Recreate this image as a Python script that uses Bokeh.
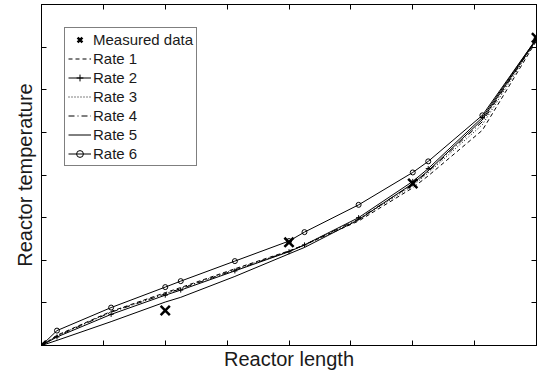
from bokeh.plotting import figure
from bokeh.models import (FixedTicker, LinearAxis, Legend, LegendItem, Range1d,
                          CustomLabelingPolicy)
from bokeh.embed import file_html
from bokeh.resources import INLINE

# Data (axes are unitless, 0..8)
x_nodes = [0, 0.25, 1.125, 2, 2.25, 3.125, 4, 4.25, 5.125, 6, 6.25, 7.125, 8]
measured_x = [0, 2, 4, 6, 8]
measured_y = [0, 0.82, 2.42, 3.80, 7.22]
rate1 = [0, 0.24, 0.80, 1.24, 1.36, 1.80, 2.22, 2.36, 2.92, 3.70, 3.98, 5.05, 7.15]
rate2 = [0, 0.20, 0.73, 1.18, 1.30, 1.75, 2.20, 2.36, 3.00, 3.85, 4.15, 5.35, 7.20]
rate3 = [0, 0.23, 0.79, 1.22, 1.34, 1.78, 2.21, 2.35, 2.95, 3.75, 4.05, 5.18, 7.17]
rate4 = [0, 0.22, 0.78, 1.21, 1.33, 1.77, 2.21, 2.36, 2.97, 3.78, 4.08, 5.25, 7.18]
rate5 = [0, 0.12, 0.56, 1.02, 1.13, 1.62, 2.15, 2.30, 2.95, 3.80, 4.10, 5.30, 7.18]
rate6 = [0, 0.35, 0.89, 1.37, 1.51, 1.98, 2.45, 2.66, 3.30, 4.06, 4.32, 5.40, 7.20]
ticks = [0, 1, 2, 3, 4, 5, 6, 7, 8]

FONT = "Liberation Sans"

p = figure(width=537, height=374, output_backend="svg", toolbar_location=None,
           x_range=Range1d(0, 8), y_range=Range1d(0, 8),
           min_border_left=41, min_border_right=1, min_border_top=4, min_border_bottom=29)
p.background_fill_color = "white"
p.border_fill_color = "white"
p.outline_line_color = "black"
p.outline_line_width = 1
p.grid.visible = False

no_labels = CustomLabelingPolicy(code="""
const n = indices.size
for (let i = 0; i < n; i++) indices.unset(i)
return indices
""")

def style_axis(ax, label=None):
    ax.ticker = FixedTicker(ticks=ticks)
    ax.major_tick_in = 5
    ax.major_tick_out = 0
    ax.minor_tick_line_color = None
    ax.major_label_policy = no_labels
    ax.major_label_text_font_size = "0px"
    ax.major_label_standoff = 0
    ax.axis_line_color = "black"
    ax.major_tick_line_color = "black"
    if label:
        ax.axis_label = label
        ax.axis_label_text_font = FONT
        ax.axis_label_text_font_size = "20px"
        ax.axis_label_text_font_style = "normal"
        ax.axis_label_text_color = "#1a1a1a"

style_axis(p.xaxis[0], "Reactor length")
p.xaxis[0].axis_label_standoff = 2
style_axis(p.yaxis[0], "Reactor temperature")
p.yaxis[0].axis_label_standoff = 6

top = LinearAxis()
style_axis(top)
p.add_layout(top, "above")
right = LinearAxis()
style_axis(right)
p.add_layout(right, "right")

r_meas = p.scatter(measured_x, measured_y, marker="x", size=13, line_color="black", line_width=2.5)
r1 = p.line(x_nodes, rate1, line_color="black", line_width=1, line_dash="4 3")
r2 = p.line(x_nodes, rate2, line_color="black", line_width=1)
r2m = p.scatter(x_nodes, rate2, marker="cross", size=5, line_color="black", line_width=1)
r3 = p.line(x_nodes, rate3, line_color="black", line_width=1, line_dash="1 2")
r4 = p.line(x_nodes, rate4, line_color="black", line_width=1, line_dash="6 3 1 3")
r5 = p.line(x_nodes, rate5, line_color="black", line_width=1)
r6 = p.line(x_nodes, rate6, line_color="black", line_width=1)
r6m = p.scatter(x_nodes, rate6, marker="circle", size=5, line_color="black", fill_color=None, line_width=1)

legend = Legend(items=[
    LegendItem(label="Measured data", renderers=[r_meas]),
    LegendItem(label="Rate 1", renderers=[r1]),
    LegendItem(label="Rate 2", renderers=[r2, r2m]),
    LegendItem(label="Rate 3", renderers=[r3]),
    LegendItem(label="Rate 4", renderers=[r4]),
    LegendItem(label="Rate 5", renderers=[r5]),
    LegendItem(label="Rate 6", renderers=[r6, r6m]),
], location=(23, 179))
legend.label_text_font = FONT
legend.label_text_font_size = "15px"
legend.label_text_color = "#1a1a1a"
legend.label_height = 17
legend.glyph_height = 17
legend.glyph_width = 23
legend.label_standoff = 2
legend.spacing = 2
legend.padding = 3
legend.margin = 0
legend.border_line_color = "black"
legend.border_line_width = 1
legend.background_fill_color = "white"
legend.background_fill_alpha = 1
p.add_layout(legend, "center")

open("out.html", "w").write(file_html(p, INLINE))
